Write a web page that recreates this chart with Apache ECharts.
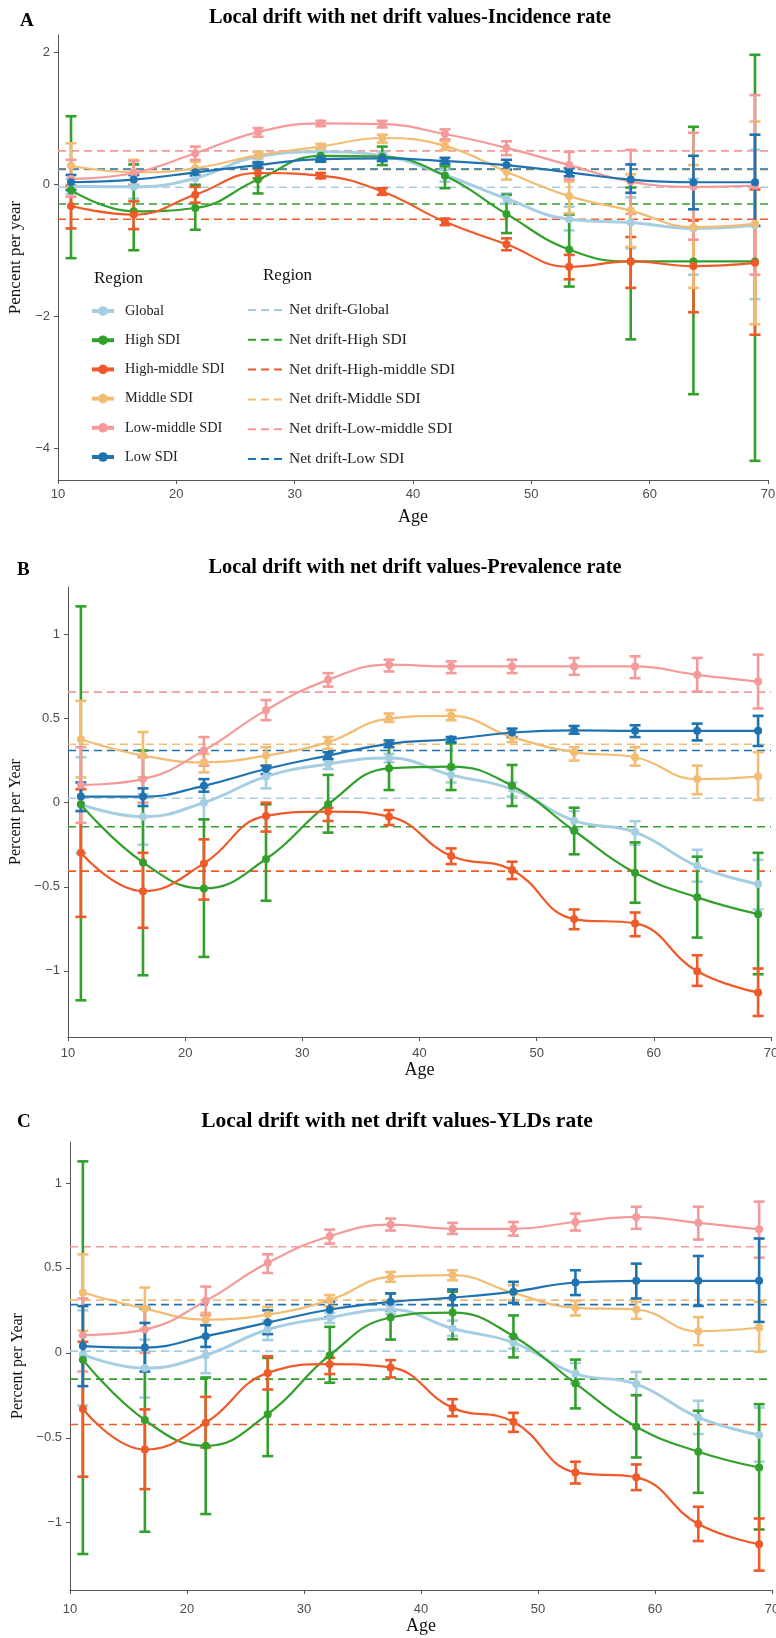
<!DOCTYPE html>
<html><head><meta charset="utf-8">
<script src="https://cdn.jsdelivr.net/npm/echarts@6/dist/echarts.min.js"></script>
<style>html,body{margin:0;padding:0;background:#fff}#chart{width:776px;height:1638px}</style>
</head><body><div id="chart"></div>
<script>
const ages = [11.1, 16.4, 21.6, 26.9, 32.2, 37.4, 42.7, 47.9, 53.2, 58.4, 63.7, 68.9];
const regions = ['Global', 'High SDI', 'High-middle SDI', 'Middle SDI', 'Low-middle SDI', 'Low SDI'];
const netNames = ['Net drift-Global', 'Net drift-High SDI', 'Net drift-High-middle SDI', 'Net drift-Middle SDI', 'Net drift-Low-middle SDI', 'Net drift-Low SDI'];
const colors = ['#a6cee3', '#33a02c', '#ef5a28', '#f2bd72', '#f59a9a', '#1f73b0'];
const incTicks = [-4, -2, 0, 2];
const preTicks = [-1, -0.5, 0, 0.5, 1];
const yldTicks = [-1, -0.5, 0, 0.5, 1];

// ---- A: Incidence rate ----
const incGlobal   = [-0.035, -0.04, 0.09, 0.42, 0.49, 0.43, 0.14, -0.22, -0.53, -0.58, -0.67, -0.62];
const incGlobalLo = [-0.15, -0.22, -0.01, 0.34, 0.43, 0.37, 0.04, -0.29, -0.70, -0.97, -1.37, -1.74];
const incGlobalHi = [0.08, 0.14, 0.22, 0.49, 0.55, 0.49, 0.22, -0.14, -0.34, -0.20, 0.08, 0.52];
const incHigh   = [-0.09, -0.41, -0.36, 0.07, 0.43, 0.42, 0.13, -0.45, -0.99, -1.17, -1.17, -1.17];
const incHighLo = [-1.12, -1.00, -0.69, -0.14, 0.36, 0.29, -0.06, -0.74, -1.55, -2.35, -3.18, -4.19];
const incHighHi = [1.03, 0.30, -0.01, 0.32, 0.50, 0.57, 0.27, -0.16, -0.46, -0.05, 0.87, 1.96];
const incHM   = [-0.33, -0.46, -0.16, 0.17, 0.13, -0.11, -0.57, -0.91, -1.25, -1.17, -1.24, -1.19];
const incHMLo = [-0.67, -0.68, -0.28, 0.09, 0.09, -0.16, -0.62, -1.00, -1.44, -1.57, -1.94, -2.28];
const incHMHi = [-0.02, -0.26, -0.04, 0.24, 0.17, -0.06, -0.52, -0.82, -1.07, -0.80, -0.55, -0.08];
const incMid   = [0.28, 0.18, 0.24, 0.44, 0.57, 0.70, 0.58, 0.19, -0.18, -0.40, -0.65, -0.60];
const incMidLo = [-0.05, -0.01, 0.14, 0.39, 0.52, 0.63, 0.52, 0.07, -0.44, -0.95, -1.57, -2.12];
const incMidHi = [0.62, 0.37, 0.34, 0.49, 0.61, 0.75, 0.65, 0.29, 0.04, 0.15, 0.29, 0.95];
const incLM   = [0.08, 0.17, 0.47, 0.79, 0.92, 0.91, 0.76, 0.55, 0.29, 0.04, -0.04, -0.02];
const incLMLo = [-0.19, -0.01, 0.37, 0.72, 0.88, 0.86, 0.68, 0.44, 0.07, -0.45, -0.84, -1.37];
const incLMHi = [0.37, 0.35, 0.57, 0.85, 0.96, 0.96, 0.83, 0.65, 0.49, 0.52, 0.78, 1.35];
const incLow   = [0.03, 0.07, 0.18, 0.29, 0.38, 0.39, 0.35, 0.29, 0.18, 0.07, 0.03, 0.03];
const incLowLo = [-0.09, -0.04, 0.13, 0.25, 0.34, 0.35, 0.31, 0.22, 0.12, -0.13, -0.38, -0.63];
const incLowHi = [0.14, 0.14, 0.23, 0.33, 0.42, 0.43, 0.40, 0.37, 0.24, 0.30, 0.43, 0.75];
const incNet = [-0.045, -0.30, -0.53, 0.22, 0.505, 0.23];

// ---- B: Prevalence rate ----
const preGlobal   = [-0.01, -0.083, 0.0, 0.155, 0.23, 0.265, 0.165, 0.08, -0.107, -0.175, -0.377, -0.484];
const preGlobalLo = [-0.30, -0.25, -0.10, 0.085, 0.20, 0.24, 0.12, 0.036, -0.16, -0.25, -0.47, -0.635];
const preGlobalHi = [0.27, 0.05, 0.09, 0.20, 0.25, 0.29, 0.20, 0.12, -0.05, -0.11, -0.28, -0.34];
const preHigh   = [-0.01, -0.355, -0.51, -0.335, -0.01, 0.204, 0.214, 0.10, -0.167, -0.417, -0.563, -0.663];
const preHighLo = [-1.175, -1.026, -0.917, -0.583, -0.178, 0.075, 0.075, -0.02, -0.307, -0.595, -0.802, -1.02];
const preHighHi = [1.167, 0.31, -0.099, -0.01, 0.165, 0.35, 0.353, 0.224, -0.03, -0.236, -0.321, -0.298];
const preHM   = [-0.298, -0.526, -0.361, -0.079, -0.053, -0.083, -0.317, -0.40, -0.692, -0.718, -1.002, -1.129];
const preHMLo = [-0.679, -0.744, -0.576, -0.172, -0.109, -0.133, -0.365, -0.454, -0.752, -0.794, -1.089, -1.268];
const preHMHi = [0.08, -0.298, -0.218, 0.0, -0.03, -0.044, -0.272, -0.351, -0.635, -0.653, -0.907, -0.986];
const preMid   = [0.377, 0.28, 0.24, 0.28, 0.36, 0.50, 0.516, 0.39, 0.30, 0.27, 0.14, 0.155];
const preMidLo = [0.15, 0.15, 0.18, 0.22, 0.32, 0.48, 0.49, 0.36, 0.25, 0.22, 0.05, 0.016];
const preMidHi = [0.605, 0.42, 0.29, 0.33, 0.39, 0.53, 0.55, 0.42, 0.33, 0.33, 0.22, 0.30];
const preLM   = [0.105, 0.14, 0.31, 0.55, 0.73, 0.82, 0.81, 0.81, 0.81, 0.81, 0.76, 0.72];
const preLMLo = [-0.12, 0.0, 0.22, 0.49, 0.69, 0.78, 0.77, 0.77, 0.76, 0.74, 0.66, 0.56];
const preLMHi = [0.33, 0.27, 0.39, 0.61, 0.77, 0.85, 0.84, 0.85, 0.86, 0.87, 0.86, 0.88];
const preLow   = [0.036, 0.036, 0.10, 0.20, 0.28, 0.35, 0.377, 0.417, 0.43, 0.427, 0.427, 0.427];
const preLowLo = [-0.05, -0.02, 0.065, 0.17, 0.26, 0.33, 0.36, 0.39, 0.41, 0.39, 0.37, 0.337];
const preLowHi = [0.12, 0.085, 0.14, 0.22, 0.30, 0.37, 0.39, 0.44, 0.456, 0.46, 0.47, 0.516];
const preNet = [0.026, -0.143, -0.407, 0.347, 0.657, 0.31];

// ---- C: YLDs rate ----
const yldGlobal   = [-0.01, -0.09, -0.014, 0.137, 0.208, 0.255, 0.143, 0.06, -0.122, -0.184, -0.38, -0.484];
const yldGlobalLo = [-0.31, -0.263, -0.12, 0.075, 0.176, 0.23, 0.10, 0.025, -0.18, -0.25, -0.478, -0.641];
const yldGlobalHi = [0.25, 0.078, 0.10, 0.19, 0.235, 0.28, 0.19, 0.094, -0.06, -0.112, -0.282, -0.322];
const yldHigh   = [-0.04, -0.396, -0.547, -0.361, -0.014, 0.208, 0.237, 0.098, -0.18, -0.435, -0.582, -0.675];
const yldHighLo = [-1.184, -1.053, -0.949, -0.608, -0.176, 0.078, 0.08, -0.027, -0.327, -0.616, -0.824, -1.04];
const yldHighHi = [1.127, 0.26, -0.145, -0.03, 0.153, 0.35, 0.36, 0.22, -0.04, -0.249, -0.341, -0.302];
const yldHM   = [-0.331, -0.569, -0.412, -0.118, -0.067, -0.086, -0.324, -0.406, -0.704, -0.733, -1.008, -1.127];
const yldHMLo = [-0.729, -0.802, -0.557, -0.216, -0.125, -0.145, -0.373, -0.465, -0.769, -0.808, -1.108, -1.282];
const yldHMHi = [0.065, -0.333, -0.259, -0.02, -0.03, -0.043, -0.273, -0.353, -0.641, -0.657, -0.906, -0.975];
const yldMid   = [0.355, 0.26, 0.196, 0.225, 0.31, 0.447, 0.457, 0.353, 0.265, 0.255, 0.127, 0.149];
const yldMidLo = [0.13, 0.14, 0.16, 0.18, 0.275, 0.418, 0.427, 0.31, 0.22, 0.20, 0.045, 0.006];
const yldMidHi = [0.58, 0.384, 0.235, 0.27, 0.34, 0.476, 0.486, 0.398, 0.306, 0.30, 0.21, 0.30];
const yldLM   = [0.104, 0.137, 0.306, 0.53, 0.686, 0.755, 0.73, 0.73, 0.77, 0.80, 0.765, 0.727];
const yldLMLo = [-0.11, 0.0, 0.22, 0.47, 0.643, 0.72, 0.70, 0.69, 0.72, 0.73, 0.667, 0.56];
const yldLMHi = [0.32, 0.27, 0.39, 0.58, 0.725, 0.79, 0.765, 0.77, 0.82, 0.86, 0.86, 0.89];
const yldLow   = [0.04, 0.031, 0.098, 0.178, 0.255, 0.30, 0.325, 0.36, 0.414, 0.424, 0.424, 0.424];
const yldLowLo = [-0.196, -0.11, 0.035, 0.11, 0.21, 0.25, 0.28, 0.294, 0.34, 0.32, 0.276, 0.182];
const yldLowHi = [0.275, 0.176, 0.163, 0.25, 0.30, 0.35, 0.373, 0.418, 0.486, 0.525, 0.57, 0.673];
const yldNet = [0.01, -0.155, -0.422, 0.31, 0.624, 0.284];

const panels = [
  { est: [incGlobal, incHigh, incHM, incMid, incLM, incLow],
    lo: [incGlobalLo, incHighLo, incHMLo, incMidLo, incLMLo, incLowLo],
    hi: [incGlobalHi, incHighHi, incHMHi, incMidHi, incLMHi, incLowHi], net: incNet },
  { est: [preGlobal, preHigh, preHM, preMid, preLM, preLow],
    lo: [preGlobalLo, preHighLo, preHMLo, preMidLo, preLMLo, preLowLo],
    hi: [preGlobalHi, preHighHi, preHMHi, preMidHi, preLMHi, preLowHi], net: preNet },
  { est: [yldGlobal, yldHigh, yldHM, yldMid, yldLM, yldLow],
    lo: [yldGlobalLo, yldHighLo, yldHMLo, yldMidLo, yldLMLo, yldLowLo],
    hi: [yldGlobalHi, yldHighHi, yldHMHi, yldMidHi, yldLMHi, yldLowHi], net: yldNet }
];

const SERIF = "'Liberation Serif', 'Times New Roman', serif";
const SANS = "'Liberation Sans', Arial, sans-serif";
const AXC = '#555555';

function errBar(color) {
  return function (params, api) {
    const x = api.value(0), lo = api.value(1), hi = api.value(2);
    const a = api.coord([x, lo]), b = api.coord([x, hi]);
    const w = 5.5;
    const st = { stroke: color, lineWidth: 2.6, fill: null };
    return { type: 'group', children: [
      { type: 'line', shape: { x1: a[0], y1: a[1], x2: b[0], y2: b[1] }, style: st },
      { type: 'line', shape: { x1: a[0] - w, y1: a[1], x2: a[0] + w, y2: a[1] }, style: st },
      { type: 'line', shape: { x1: b[0] - w, y1: b[1], x2: b[0] + w, y2: b[1] }, style: st }
    ] };
  };
}

const fmtMinus = v => String(v).replace('-', '\u2212');

const grids = [
  { left: 58, right: 8, top: 35, height: 445 },
  { left: 68, right: 5, top: 587, height: 450 },
  { left: 70, right: 4, top: 1142, height: 448 }
];
grids.forEach(g => { g.containLabel = false; g.outerBoundsMode = 'none'; });

const yRanges = [[-4.48, 2.26], [-1.393, 1.282], [-1.396, 1.241]];
const yTicks = [incTicks, preTicks, yldTicks];
const yNames = ['Pencent per year', 'Percent per Year', 'Percent per Year'];
const yNameGap = [25, 29, 25];
const yNameSize = [17, 16, 16];
const xNameGap = [28, 22, 27];
const xLabelMargin = [8, 10, 13];

const xAxes = grids.map((g, i) => ({
  type: 'value', gridIndex: i, min: 10, max: 70, interval: 10,
  name: 'Age', nameLocation: 'middle', nameGap: xNameGap[i],
  nameTextStyle: { fontFamily: SERIF, fontSize: 18, color: '#111' },
  axisLine: { show: true, onZero: false, lineStyle: { color: AXC, width: 1 } },
  axisTick: { show: true, length: 4, lineStyle: { color: AXC } },
  axisLabel: { color: '#4d4d4d', fontFamily: SANS, fontSize: 13, margin: xLabelMargin[i] },
  splitLine: { show: false }
}));
const yAxes = grids.map((g, i) => ({
  type: 'value', gridIndex: i, min: yRanges[i][0], max: yRanges[i][1],
  name: yNames[i], nameLocation: 'middle', nameGap: yNameGap[i],
  nameTextStyle: { fontFamily: SERIF, fontSize: yNameSize[i], color: '#111' },
  axisLine: { show: true, onZero: false, lineStyle: { color: AXC, width: 1 } },
  axisTick: { show: true, length: 4, lineStyle: { color: AXC }, customValues: yTicks[i] },
  axisLabel: { color: '#4d4d4d', fontFamily: SANS, fontSize: 13, margin: 8, customValues: yTicks[i], formatter: fmtMinus },
  splitLine: { show: false }
}));

const series = [];
panels.forEach((p, g) => regions.forEach((r, k) => series.push({
  type: 'line', name: r, xAxisIndex: g, yAxisIndex: g,
  data: ages.map((a, i) => [a, p.est[k][i]]),
  smooth: 0.45, symbol: 'circle', symbolSize: 8, showSymbol: true,
  lineStyle: { width: k === 0 ? 3 : 2.2, color: colors[k] },
  itemStyle: { color: colors[k] }, z: 4 + k * 0.01, silent: true, animation: false
})));
panels.forEach((p, g) => regions.forEach((r, k) => series.push({
  type: 'line', name: netNames[k], xAxisIndex: g, yAxisIndex: g,
  data: [[10, p.net[k]], [70, p.net[k]]], symbol: 'none',
  lineStyle: { type: [8, 5], width: 1.6, color: colors[k] },
  itemStyle: { color: colors[k] }, z: 2, silent: true, animation: false
})));
panels.forEach((p, g) => regions.forEach((r, k) => series.push({
  type: 'custom', name: r + ' interval', xAxisIndex: g, yAxisIndex: g,
  data: ages.map((a, i) => [a, p.lo[k][i], p.hi[k][i]]),
  encode: { x: 0, y: [1, 2] },
  renderItem: errBar(colors[k]), z: 3 + k * 0.01, silent: true, animation: false
})));

const titleBold = { fontFamily: SERIF, fontWeight: 'bold', fontSize: 20.3, color: '#000' };
const letterBold = { fontFamily: SERIF, fontWeight: 'bold', fontSize: 19, color: '#000' };
const titles = [
  { text: 'A', left: 20, top: 12, padding: 0, textStyle: letterBold },
  { text: 'Local drift with net drift values-Incidence rate', left: 410, top: 8, padding: 0, textAlign: 'center', textStyle: titleBold },
  { text: 'B', left: 17, top: 561, padding: 0, textStyle: letterBold },
  { text: 'Local drift with net drift values-Prevalence rate', left: 415, top: 558, padding: 0, textAlign: 'center', textStyle: titleBold },
  { text: 'C', left: 17, top: 1113, padding: 0, textStyle: letterBold },
  { text: 'Local drift with net drift values-YLDs rate', left: 397, top: 1110, padding: 0, textAlign: 'center', textStyle: Object.assign({}, titleBold, { fontSize: 21.5 }) },
  { text: 'Region', left: 94, top: 270, padding: 0, textStyle: { fontFamily: SERIF, fontWeight: 'normal', fontSize: 17, color: '#111' } },
  { text: 'Region', left: 263, top: 267, padding: 0, textStyle: { fontFamily: SERIF, fontWeight: 'normal', fontSize: 17, color: '#111' } }
];

const legends = [
  { data: regions, orient: 'vertical', left: 90, top: 304, padding: 0,
    itemWidth: 22, itemHeight: 12, itemGap: 15.2,
    lineStyle: { width: 4 },
    textStyle: { fontFamily: SERIF, fontSize: 14.3, color: '#222', padding: [0, 0, 0, 6] },
    selectedMode: false },
  { data: netNames, orient: 'vertical', left: 247, top: 302, padding: 0,
    itemWidth: 35, itemHeight: 12, itemGap: 13.8,
    itemStyle: { color: 'rgba(0,0,0,0)', borderWidth: 0, opacity: 0 },
    textStyle: { fontFamily: SERIF, fontSize: 15.5, color: '#222', padding: [0, 0, 0, 1] },
    selectedMode: false }
];

const chart = echarts.init(document.getElementById('chart'), null, { renderer: 'canvas', width: 776, height: 1638 });
chart.setOption({
  animation: false,
  backgroundColor: '#ffffff',
  title: titles,
  legend: legends,
  grid: grids,
  xAxis: xAxes,
  yAxis: yAxes,
  series: series
});
</script></body></html>
